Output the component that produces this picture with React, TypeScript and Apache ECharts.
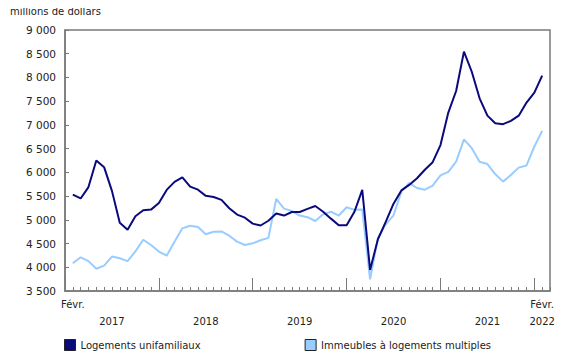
import React, { useEffect, useRef } from "react";
import * as echarts from "echarts";

// Months from Jan 2017 (index 0) to Mar 2022 (index 62); data from Feb 2017 to Feb 2022
const months: string[] = [];
for (let y = 2017; y <= 2022; y++) {
  for (let m = 1; m <= 12; m++) {
    if (y === 2022 && m > 3) break;
    months.push(`${y}-${String(m).padStart(2, "0")}`);
  }
}

const seriesNames = ["Logements unifamiliaux", "Immeubles à logements multiples"];

const singleFamily: (number | null)[] = [
  null,
  5530, 5450, 5690, 6250, 6110, 5610, 4940, 4790, 5075, 5200, 5215,
  5355, 5630, 5800, 5895, 5700, 5635, 5505, 5480, 5420, 5245, 5110, 5045,
  4920, 4880, 4980, 5135, 5090, 5165, 5165, 5230, 5290, 5170, 5025, 4885,
  4885, 5170, 5630, 3945, 4590, 4955, 5340, 5620, 5735, 5875, 6055, 6215,
  6575, 7260, 7715, 8545, 8120, 7560, 7195, 7035, 7015, 7085, 7195, 7470,
  7680, 8040,
  null,
];

const multiUnit: (number | null)[] = [
  null,
  4085, 4210, 4130, 3970, 4035, 4225, 4190, 4130, 4335, 4580, 4470,
  4330, 4245, 4540, 4820, 4875, 4850, 4695, 4750, 4755, 4665, 4540, 4470,
  4505, 4570, 4620, 5440, 5235, 5185, 5090, 5055, 4975, 5115, 5170, 5090,
  5265, 5210, 5220, 3745, 4610, 4905, 5095, 5595, 5775, 5670, 5635, 5720,
  5935, 6010, 6225, 6695, 6510, 6225, 6175, 5965, 5805, 5945, 6100, 6145,
  6545, 6875,
  null,
];

// Axis label text by category index (first line: month, second line: year)
const xLabels: Record<number, string> = {
  1: "Févr.\n ",
  6: " \n2017",
  18: " \n2018",
  30: " \n2019",
  42: " \n2020",
  54: " \n2021",
  61: "Févr.\n2022",
};

const FONT = "DejaVu Sans";
const AXIS = "#7a7a7a";
const TEXT = "#222222";

export default function App() {
  const ref = useRef<HTMLDivElement>(null);
  useEffect(() => {
    if (!ref.current) return;
    const chart = echarts.init(ref.current, undefined, { renderer: "svg" });
    chart.setOption({
      animation: false,
      textStyle: { fontFamily: FONT },
      title: {
        text: "millions de dollars",
        left: 10,
        top: 6,
        padding: 0,
        textStyle: { fontFamily: FONT, fontSize: 10, fontWeight: "normal", color: TEXT },
      },
      grid: {
        left: 65,
        right: 30,
        top: 30,
        bottom: 69,
        show: true,
        borderColor: AXIS,
        borderWidth: 1.5,
        backgroundColor: "transparent",
      },
      legend: {
        left: 64,
        top: 339,
        padding: 0,
        icon: "rect",
        itemWidth: 11,
        itemHeight: 11,
        itemGap: 104,
        itemStyle: { borderColor: "#222", borderWidth: 1 },
        textStyle: { fontFamily: FONT, fontSize: 10, color: TEXT },
        data: seriesNames,
      },
      xAxis: [
        {
          type: "category",
          data: months,
          boundaryGap: false,
          axisLine: { show: true, lineStyle: { color: AXIS, width: 1.5 } },
          axisTick: { show: true, inside: true, length: 4, interval: 0, lineStyle: { color: AXIS } },
          axisLabel: {
            interval: (i: number) => xLabels[i] !== undefined,
            formatter: (_v: string, i: number) => xLabels[i] ?? "",
            fontFamily: FONT,
            fontSize: 10,
            color: TEXT,
            lineHeight: 17,
            margin: 5,
          },
          splitLine: { show: false },
        },
        {
          type: "category",
          data: months,
          boundaryGap: false,
          position: "bottom",
          axisLine: { show: false },
          axisTick: {
            show: true,
            inside: true,
            length: 13,
            interval: (i: number) => i % 12 === 0,
            lineStyle: { color: AXIS },
          },
          axisLabel: { show: false },
          splitLine: { show: false },
        },
      ],
      yAxis: {
        type: "value",
        min: 3500,
        max: 9000,
        interval: 500,
        axisLine: { show: true, lineStyle: { color: AXIS, width: 1.5 } },
        axisTick: { show: true, inside: true, length: 4, lineStyle: { color: AXIS } },
        splitLine: { show: false },
        axisLabel: {
          fontFamily: FONT,
          fontSize: 10.5,
          color: TEXT,
          margin: 9,
          formatter: (v: number) => String(v).replace(/\B(?=(\d{3})+(?!\d))/g, " "),
        },
      },
      series: [
        {
          name: seriesNames[0],
          type: "line",
          data: singleFamily,
          showSymbol: false,
          symbol: "none",
          lineStyle: { color: "#0a0a7d", width: 2 },
          itemStyle: { color: "#0a0a7d" },
          z: 3,
        },
        {
          name: seriesNames[1],
          type: "line",
          data: multiUnit,
          showSymbol: false,
          symbol: "none",
          lineStyle: { color: "#99ccff", width: 2 },
          itemStyle: { color: "#99ccff" },
          z: 2,
        },
      ],
    });
    return () => chart.dispose();
  }, []);
  return <div ref={ref} style={{ width: 580, height: 360, margin: -8 }} />;
}
